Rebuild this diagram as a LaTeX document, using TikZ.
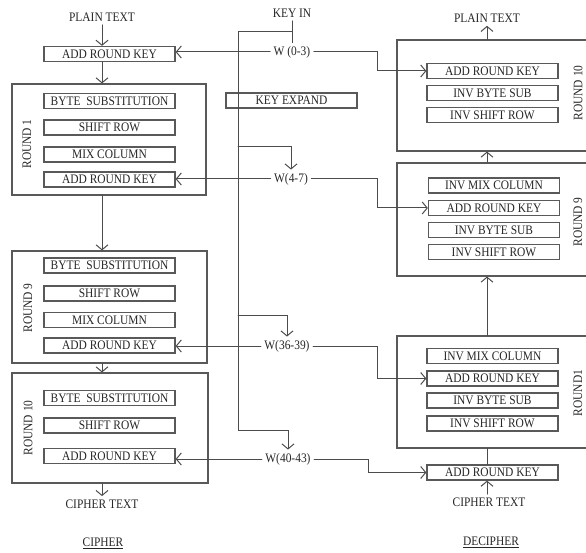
\documentclass[tikz,border=0pt]{standalone}
\usepackage{fontspec}
\setmainfont[FakeStretch=0.88]{Liberation Serif}
\usetikzlibrary{arrows.meta}

\begin{document}
\begin{tikzpicture}[x=1pt,y=-1pt,line cap=round,
  every node/.style={font=\fontsize{13}{15}\selectfont,text=black!85},
  stage/.style={draw=black!65,line width=1.3pt,minimum width=131pt,minimum height=15pt,inner sep=0pt},
  roundbox/.style={draw=black!65,line width=1.1pt,inner sep=0pt},
  wire/.style={draw=black!70,line width=1pt},
  arr/.style={-{Straight Barb[length=5pt,width=12pt]}}]
\clip (0,0) rectangle (586,553);
% cipher side
\node (ptL) at (102,17) {PLAIN TEXT};
\node[stage] (arkL0) at (109.5,54) {ADD ROUND KEY};
\node[roundbox,minimum width=194pt,minimum height=111pt] (rL1) at (109,139.5) {};
\node[stage] (bsL1) at (109.5,101) {BYTE\ \ SUBSTITUTION};
\node[stage] (srL1) at (109.5,127.5) {SHIFT ROW};
\node[stage] (mcL1) at (109.5,154.5) {MIX COLUMN};
\node[stage] (arkL1) at (109.5,179.5) {ADD ROUND KEY};
\node[rotate=90] (tL1) at (27,144) {ROUND 1};
\node[roundbox,minimum width=195pt,minimum height=112pt] (rL9) at (109.5,307) {};
\node[stage] (bsL9) at (109.5,265.5) {BYTE\ \ SUBSTITUTION};
\node[stage] (srL9) at (109.5,293.5) {SHIFT ROW};
\node[stage] (mcL9) at (109.5,320) {MIX COLUMN};
\node[stage] (arkL9) at (109.5,345.5) {ADD ROUND KEY};
\node[rotate=90] (tL9) at (28,308) {ROUND 9};
\node[roundbox,minimum width=196pt,minimum height=110pt] (rL10) at (110,428) {};
\node[stage] (bsL10) at (109.5,398) {BYTE\ \ SUBSTITUTION};
\node[stage] (srL10) at (109.5,425.5) {SHIFT ROW};
\node[stage] (arkL10) at (109.5,456) {ADD ROUND KEY};
\node[rotate=90] (tL10) at (28,428) {ROUND 10};
\node (ctL) at (102,504) {CIPHER TEXT};
\node (tc) at (103,543) {\underline{CIPHER}};
% flow down
\draw[wire,arr] (ptL.south) -- (ptL.south |- arkL0.north);
\draw[wire,arr] (arkL0.south -| ptL) -- (rL1.north -| ptL);
\draw[wire,arr] (rL1.south -| ptL) -- (rL9.north -| ptL);
\draw[wire,arr] (rL9.south -| ptL) -- (rL10.north -| ptL);
\draw[wire,arr] (rL10.south -| ctL) -- (ctL.north);
% key schedule
\node (keyin) at (292,13) {KEY IN};
\node (w0) at (292,52) {W (0-3)};
\node[stage] (kexp) at (291.5,100.5) {KEY EXPAND};
\node (w1) at (291,179) {W(4-7)};
\node (w9) at (287,346) {W(36-39)};
\node (w10) at (288,459) {W(40-43)};
\coordinate (ktop) at (238,32);
\coordinate (b1) at (238,147);
\coordinate (b9) at (238,315);
\coordinate (kbot) at (238,430);
\draw[wire] (keyin) -- (w0);
\draw[wire,arr] (keyin |- ktop) -- (ktop) -- (kbot) -| (w10.north);
\draw[wire,arr] (b1) -| (w1.north);
\draw[wire,arr] (b9) -| (w9.north);
\draw[wire,arr] (w0.west) -- (w0.west -| arkL0.east);
\draw[wire,arr] (w1.west) -- (w1.west -| arkL1.east);
\draw[wire,arr] (w9.west) -- (w9.west -| arkL9.east);
\draw[wire,arr] (w10.west) -- (w10.west -| arkL10.east);
% decipher side
\node (ptR) at (487,18) {PLAIN TEXT};
\node[roundbox,minimum width=192pt,minimum height=111pt] (rR10) at (493,95.5) {};
\node[stage] (arkR10) at (492.5,71) {ADD ROUND KEY};
\node[stage] (ibsR10) at (492.5,93) {INV BYTE SUB};
\node[stage] (isrR10) at (492.5,115) {INV SHIFT ROW};
\node[rotate=90] (tR10) at (578,93) {ROUND 10};
\node[roundbox,minimum width=192pt,minimum height=113pt] (rR9) at (493,219.5) {};
\node[stage] (imcR9) at (494,185.5) {INV MIX COLUMN};
\node[stage] (arkR9) at (494,208) {ADD ROUND KEY};
\node[stage] (ibsR9) at (494,230) {INV BYTE SUB};
\node[stage] (isrR9) at (494,252) {INV SHIFT ROW};
\node[rotate=90] (tR9) at (578,222) {ROUND 9};
\node[roundbox,minimum width=192pt,minimum height=112pt] (rR1) at (493,392) {};
\node[stage] (imcR1) at (492.5,356) {INV MIX COLUMN};
\node[stage] (arkR1) at (492.5,378.5) {ADD ROUND KEY};
\node[stage] (ibsR1) at (492.5,400.5) {INV BYTE SUB};
\node[stage] (isrR1) at (492.5,423.5) {INV SHIFT ROW};
\node[rotate=90] (tR1) at (578,393) {ROUND1};
\node[stage] (arkB) at (492.5,472.5) {ADD ROUND KEY};
\node (ctR) at (489,502) {CIPHER TEXT};
\node (td) at (491,542) {\underline{DECIPHER}};
% flow up
\draw[wire,arr] (rR10.north -| ptR) -- (ptR.south);
\draw[wire,arr] (rR9.north -| ptR) -- (rR10.south -| ptR);
\draw[wire,arr] (rR1.north -| ptR) -- (rR9.south -| ptR);
\draw[wire] (arkB.north -| ptR) -- (rR1.south -| ptR);
\draw[wire,arr] (ctR.north -| ptR) -- (arkB.south -| ptR);
% round keys to decipher
\coordinate (jog) at (377.5,0);
\coordinate (jogb) at (368,0);
\draw[wire,arr] (w0.east) -- (w0.east -| jog) -- (jog |- arkR10.west) -- (arkR10.west);
\draw[wire,arr] (w1.east) -- (w1.east -| jog) -- (jog |- arkR9.west) -- (arkR9.west);
\draw[wire,arr] (w9.east) -- (w9.east -| jog) -- (jog |- arkR1.west) -- (arkR1.west);
\draw[wire,arr] (w10.east) -- (w10.east -| jogb) -- (jogb |- arkB.west) -- (arkB.west);
\end{tikzpicture}
\end{document}
